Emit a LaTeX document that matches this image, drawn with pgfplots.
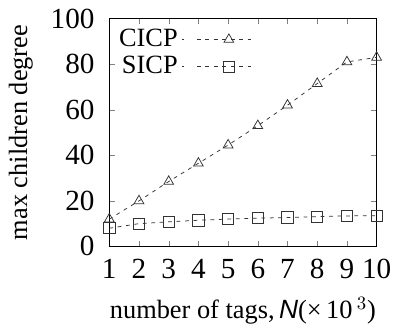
\documentclass[border=0pt]{standalone}
\usepackage{fontspec}
\setmainfont{Liberation Serif}
\newfontfamily\sansit{Liberation Sans}
\usepackage{pgfplots}
\pgfplotsset{compat=1.18}
\begin{document}
\fontsize{14}{16}\selectfont
\begin{tikzpicture}
\begin{axis}[
  scale only axis, width=142pt, height=121pt,
  xmin=1, xmax=10, ymin=0, ymax=100,
  xtick={1,...,10}, ytick={0,20,...,100},
  xticklabels={1,2,3,4,5,6,7,8,9,10},
  yticklabels={0,20,40,60,80,100},
  tick align=inside,
  major tick length=3pt,
  tick label style={font=\fontsize{15.5}{17}\selectfont},
  label style={font=\fontsize{14}{16}\selectfont},
  xticklabel style={yshift=-2pt},
  yticklabel style={xshift=-3pt},
  xlabel={number of tags,\,{\sansit\itshape N}(×\,10\,$^{3}$)},
  ylabel={max children degree},
  ylabel style={yshift=0pt},
  legend style={at={(0.0,0.99)}, anchor=north west, draw=none, fill=none,
    font=\fontsize{14}{16}\selectfont, row sep=-1pt},
  legend cell align=right,
  legend plot pos=right,
  legend image code/.code={\path (0pt,0pt) -- (1pt,0pt); \draw[mark repeat=2,mark phase=2,#1] plot coordinates {(8pt,0pt)(25pt,0pt)(39pt,0pt)};},
]
\addplot[mark=triangle, mark size=3pt, black!80, thin, dash pattern=on 2pt off 2.5pt, mark options={solid}] coordinates {
(1,12) (2,20) (3,28.5) (4,36.5) (5,44.5) (6,53) (7,62) (8,71.5) (9,81) (10,83)};
\addlegendentry{CICP}
\addplot[mark=square, mark size=3pt, black!80, thin, dash pattern=on 2pt off 2.5pt, mark options={solid}] coordinates {
(1,8) (2,10) (3,10.8) (4,11.5) (5,12) (6,12.4) (7,12.7) (8,13.1) (9,13.4) (10,13.5)};
\addlegendentry{SICP}
\end{axis}
\end{tikzpicture}
\end{document}
